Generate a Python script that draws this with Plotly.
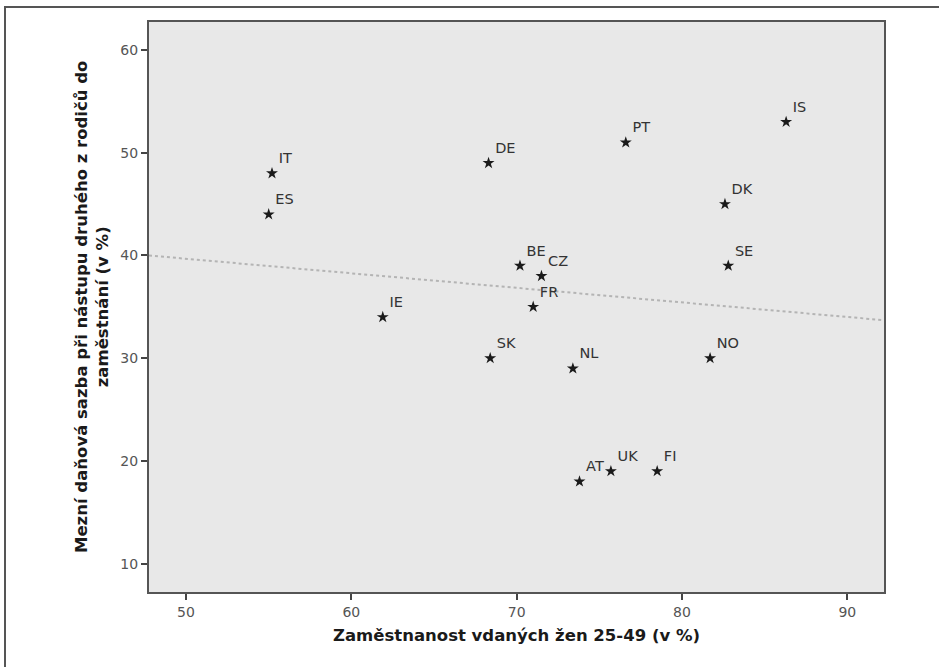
import plotly.graph_objects as go

countries = ["IT", "ES", "DE", "PT", "IS", "DK", "SE", "BE", "CZ", "FR", "IE", "SK", "NL", "NO", "AT", "UK", "FI"]
employment = [55.2, 55.0, 68.3, 76.6, 86.3, 82.6, 82.8, 70.2, 71.5, 71.0, 61.9, 68.4, 73.4, 81.7, 73.8, 75.7, 78.5]
tax_rate = [48, 44, 49, 51, 53, 45, 39, 39, 38, 35, 34, 30, 29, 30, 18, 19, 19]

fit_x = [47.76, 92.22]
fit_y = [40.0, 33.7]

x_range = [47.76, 92.22]
y_range = [7.24, 62.73]
x_ticks = [50, 60, 70, 80, 90]
y_ticks = [10, 20, 30, 40, 50, 60]

FONT = "DejaVu Sans, Verdana, sans-serif"

fig = go.Figure()
fig.add_trace(go.Scatter(
    x=fit_x, y=fit_y, mode="lines",
    line=dict(color="#b4b4b4", width=2, dash="dot"),
    hoverinfo="skip", showlegend=False,
))
fig.add_trace(go.Scatter(
    x=employment, y=tax_rate, mode="markers+text",
    text=countries, textposition="top right",
    textfont=dict(family=FONT, size=14.5, color="#333333"),
    marker=dict(symbol="star", size=9, color="#1a1a1a", line=dict(width=0)),
    showlegend=False,
))

W, H = 939, 667
L, R, T, B = 149, 55, 22, 75
pw, ph = W - L - R, H - T - B

fig.update_layout(
    width=W, height=H,
    margin=dict(l=L, r=R, t=T, b=B),
    paper_bgcolor="white",
    plot_bgcolor="#e8e8e8",
    font=dict(family=FONT, color="#444444"),
    xaxis=dict(
        range=x_range, tickvals=x_ticks, showgrid=False, zeroline=False,
        ticks="outside", ticklen=6, tickwidth=2, tickcolor="#444444",
        tickfont=dict(size=14, color="#555555"),
        showline=True, linecolor="#555555", linewidth=2, mirror=True,
        title=dict(text="<b>Zaměstnanost vdaných žen 25-49 (v %)</b>",
                   font=dict(size=16.5, color="#1a1a1a"), standoff=11),
    ),
    yaxis=dict(
        range=y_range, tickvals=y_ticks, showgrid=False, zeroline=False,
        ticks="outside", ticklen=6, tickwidth=2, tickcolor="#444444",
        tickfont=dict(size=14, color="#555555"),
        showline=True, linecolor="#555555", linewidth=2, mirror=True,
    ),
    annotations=[dict(
        text="<b>Mezní daňová sazba při nástupu druhého z rodičů do<br>zaměstnání (v %)</b>",
        xref="paper", yref="paper",
        x=(92 - L) / pw, y=0.5, xanchor="center", yanchor="middle",
        textangle=-90, showarrow=False,
        font=dict(size=16.5, color="#1a1a1a"),
    )],
    shapes=[dict(
        type="rect", xref="paper", yref="paper",
        x0=(5 - L) / pw, x1=(960 - L) / pw,
        y0=(H - B - 690) / ph, y1=(H - B - 7) / ph,
        line=dict(color="#555555", width=2), fillcolor="rgba(0,0,0,0)",
        layer="below",
    )],
)

fig.write_html("out.html")
